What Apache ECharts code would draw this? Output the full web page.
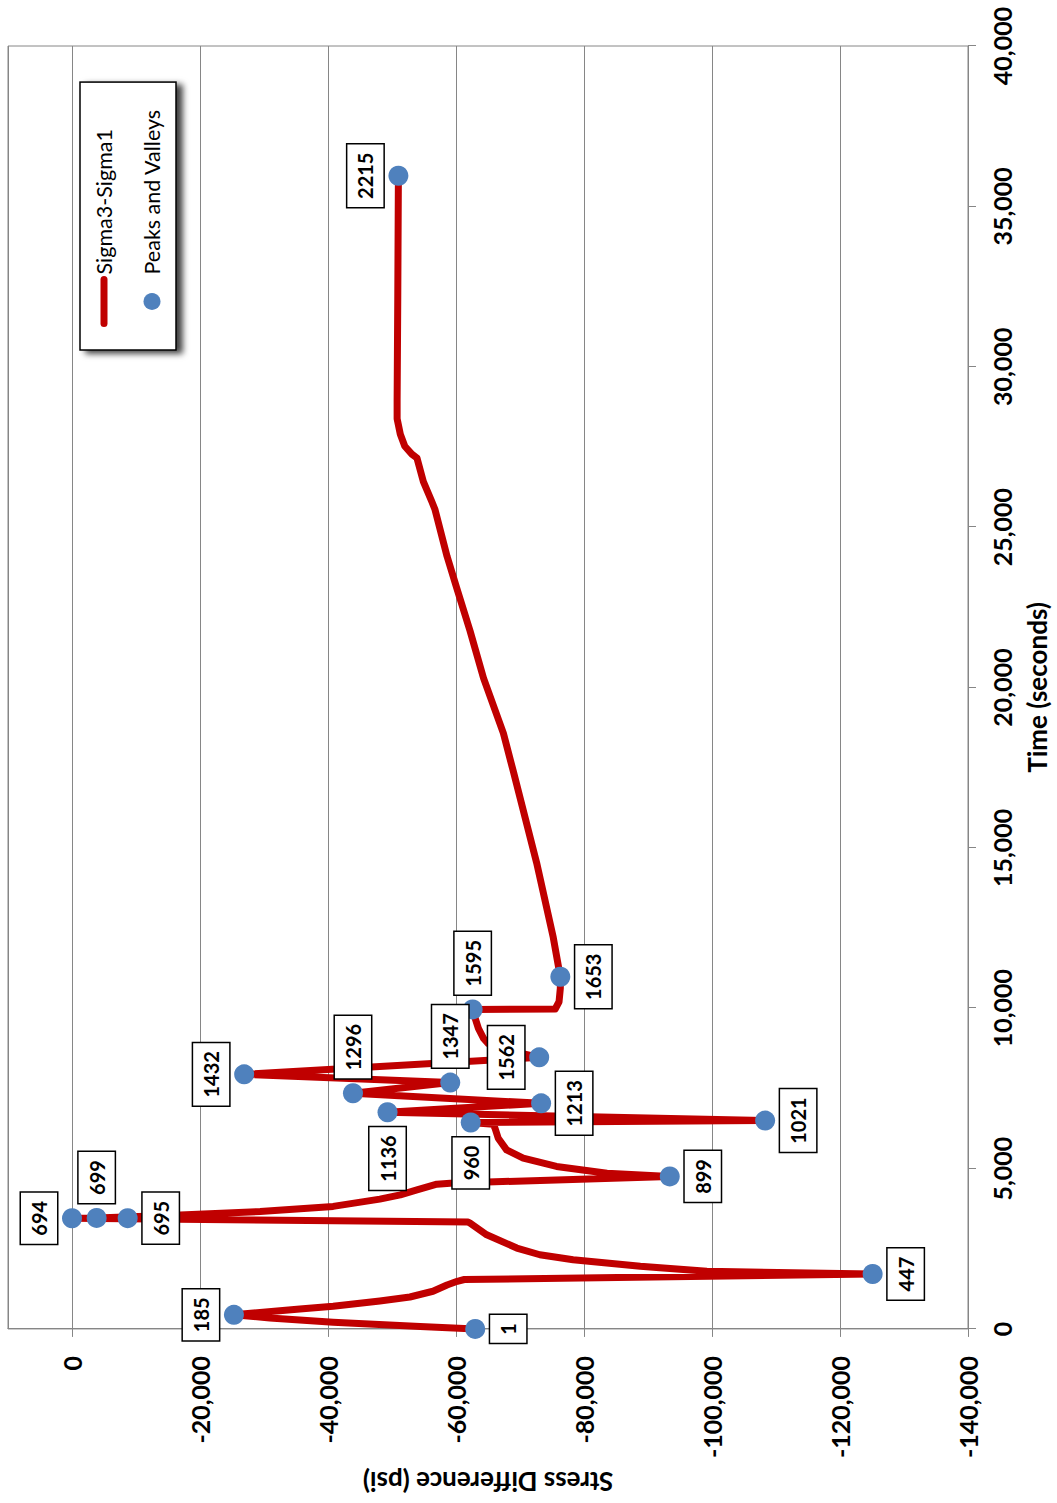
<!DOCTYPE html>
<html>
<head>
<meta charset="utf-8">
<title>Sigma3-Sigma1</title>
<script src="https://cdn.jsdelivr.net/npm/echarts@6/dist/echarts.min.js"></script>
<style>
  html, body { margin: 0; padding: 0; background: #fff; overflow: hidden; }
  /* the chart is drawn landscape and turned a quarter turn to the left */
  #chart {
    position: absolute; left: 0; top: 0;
    width: 1503px; height: 1057px;
    transform-origin: 0 0;
    transform: translate(0, 1503px) rotate(-90deg);
  }
</style>
</head>
<body>
<div id="chart"></div>
<script>
// Sigma3-Sigma1 trace (time in s, stress difference in psi)
const lineTime = [0, 78, 209, 342, 440, 622, 707, 872, 996, 1174, 1370, 1485, 1541, 1712,
  1796, 1952, 2157, 2313, 2522, 2935, 3300, 3331, 3450, 3452, 3462, 3549, 3658, 3820,
  4047, 4181, 4337, 4514, 4545, 4754, 4856, 5065, 5323, 5582, 5946, 6257, 6382, 6435,
  6497, 6755, 7035, 7347, 7680, 7938, 8467, 8778, 8903, 9059, 9370, 9681, 9962, 9975,
  10201, 10616, 10980, 12203, 14532, 17349, 18575, 20291, 21760, 23108, 24089, 25558,
  25807, 26417, 27155, 27276, 27522, 27893, 28378, 28982, 32095, 35955];
const lineStress = [-63000, -54400, -40800, -30900, -25300, -35600, -40800, -48100, -52800,
  -56400, -58600, -60200, -61300, -125100, -99200, -88800, -78300, -73100, -69500, -64800,
  -62200, -61900, 0, -8700, -3850, -16900, -29400, -40800, -48100, -51300, -53900, -57000,
  -59100, -93400, -83600, -75700, -70500, -67900, -66600, -66100, -65800, -62300, -108300,
  -49300, -73300, -43900, -59100, -26900, -73000, -66100, -65000, -64300, -63500, -63000,
  -62600, -75500, -76100, -76300, -76300, -75200, -72600, -69000, -67400, -64300, -62200,
  -60100, -58600, -56700, -56200, -54900, -53900, -53100, -52000, -51300, -50800, -50800,
  -50900, -51000];

// peaks and valleys (row index, time, stress)
const peakIndex = [1, 185, 447, 694, 695, 699, 899, 960, 1021, 1136, 1213, 1296, 1347, 1432, 1562, 1595, 1653, 2215];
const peakTime = [0, 440, 1712, 3450, 3452, 3462, 4754, 6435, 6497, 6755, 7035, 7347, 7680, 7938, 8467, 9962, 10980, 35955];
const peakStress = [-63000, -25300, -125100, 0, -8700, -3850, -93400, -62300, -108300, -49300, -73300, -43900, -59100, -26900, -73000, -62600, -76300, -51000];

// where each data label sits
const labelSide = {
  1: 'bottom', 185: 'top', 447: 'bottom', 694: 'top', 695: 'bottom', 699: 'right',
  899: 'bottom', 960: 'left', 1021: 'bottom', 1136: 'left', 1213: 'bottom', 1296: 'right',
  1347: 'right', 1432: 'top', 1562: 'top', 1595: 'right', 1653: 'bottom', 2215: 'top'
};

const FONT = 'Lato';
const GREY = '#868686';
const fmt = v => v.toLocaleString('en-US');

const chart = echarts.init(document.getElementById('chart'), null, {
  renderer: 'svg', width: 1503, height: 1057
});

const lineData = lineTime.map((t, i) => [t, lineStress[i]]);
const peakData = peakIndex.map((n, i) => ({
  name: String(n),
  value: [peakTime[i], peakStress[i]],
  label: { position: labelSide[n] }
}));

chart.setOption({
  animation: false,
  backgroundColor: '#fff',
  grid: {
    left: 172, right: 46, top: 8, bottom: 89,
    show: true, borderColor: GREY, borderWidth: 1
  },
  legend: {
    orient: 'vertical',
    left: 1153, top: 80,
    padding: [12, 27, 12, 23],
    itemWidth: 44, itemHeight: 17, itemGap: 24,
    backgroundColor: '#fff',
    borderColor: '#000', borderWidth: 1.5,
    shadowColor: 'rgba(0,0,0,0.75)', shadowBlur: 6,
    shadowOffsetX: -3, shadowOffsetY: 6,
    textStyle: { fontFamily: FONT, fontSize: 21.5, color: '#000', lineHeight: 24 },
    data: [
      {
        name: 'Sigma3-Sigma1',
        lineStyle: { width: 7, cap: 'round', color: '#C00000' },
        // line only, no marker in the key
        itemStyle: { opacity: 0, borderWidth: 0 }
      },
      { name: 'Peaks and Valleys', icon: 'circle' }
    ]
  },
  xAxis: {
    type: 'value',
    min: 0, max: 40000, interval: 5000,
    name: 'Time (seconds)',
    nameLocation: 'middle', nameGap: 56,
    nameTextStyle: { fontFamily: FONT, fontWeight: 'bold', fontSize: 26, color: '#000' },
    axisLine: { show: true, onZero: false, lineStyle: { color: GREY, width: 1 } },
    axisTick: { show: true, length: 8, lineStyle: { color: GREY, width: 1 } },
    axisLabel: {
      margin: 21, fontFamily: FONT, fontWeight: 'bold', fontSize: 25, color: '#000',
      formatter: fmt
    },
    splitLine: { show: false }
  },
  yAxis: {
    type: 'value',
    min: -140000, max: 10000, interval: 20000,
    name: 'Stress Difference (psi)',
    nameLocation: 'middle', nameGap: 135,
    nameTextStyle: { fontFamily: FONT, fontWeight: 'bold', fontSize: 26, color: '#000' },
    axisLine: { show: true, lineStyle: { color: GREY, width: 1 } },
    axisTick: { show: true, length: 8, lineStyle: { color: GREY, width: 1 } },
    axisLabel: {
      margin: 27, showMaxLabel: false,
      fontFamily: FONT, fontWeight: 'bold', fontSize: 25, color: '#000',
      formatter: fmt
    },
    splitLine: { show: true, lineStyle: { color: GREY, width: 1 } }
  },
  series: [
    {
      name: 'Sigma3-Sigma1',
      type: 'line',
      data: lineData,
      symbol: 'none',
      sampling: null,
      lineStyle: { color: '#C00000', width: 7, cap: 'round', join: 'round' },
      itemStyle: { color: '#C00000' },
      z: 2
    },
    {
      name: 'Peaks and Valleys',
      type: 'scatter',
      data: peakData,
      symbol: 'circle',
      symbolSize: 20,
      itemStyle: { color: '#4F81BD', opacity: 1 },
      label: {
        show: true,
        formatter: p => p.name,
        distance: 5,
        fontFamily: FONT, fontWeight: 'bold', fontSize: 20, color: '#000',
        lineHeight: 20,
        backgroundColor: '#fff', borderColor: '#000', borderWidth: 1.5,
        padding: [8, 8, 8, 8]
      },
      z: 3
    }
  ]
});
</script>
</body>
</html>
